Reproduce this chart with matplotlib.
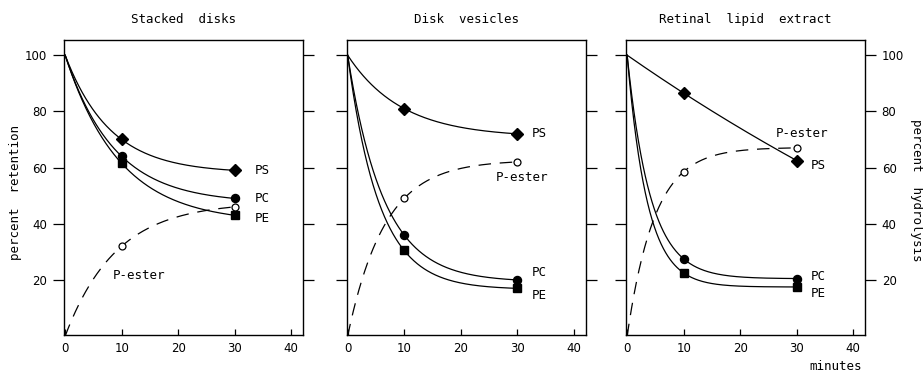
import numpy as np
import matplotlib
matplotlib.use("Agg")
import matplotlib.pyplot as plt

plt.rcParams['font.family'] = ['DejaVu Sans']

# ---- data ----
times = [0, 10, 30]
titles = ["Stacked  disks", "Disk  vesicles", "Retinal  lipid  extract"]

stacked_PS = [100, 70, 59]
stacked_PC = [100, 64, 49]
stacked_PE = [100, 61.5, 43]
stacked_Pester = [0, 32, 46]

vesicles_PS = [100, 81, 72]
vesicles_PC = [100, 36, 20]
vesicles_PE = [100, 30.5, 17]
vesicles_Pester = [0, 49, 62]

extract_PS = [100, 86.5, 62.5]
extract_PC = [100, 27.5, 20.5]
extract_PE = [100, 22.5, 17.5]
extract_Pester = [0, 58.5, 67]

xticks = [0, 10, 20, 30, 40]
yticks = [20, 40, 60, 80, 100]

panels = [
    (stacked_PS, stacked_PC, stacked_PE, stacked_Pester),
    (vesicles_PS, vesicles_PC, vesicles_PE, vesicles_Pester),
    (extract_PS, extract_PC, extract_PE, extract_Pester),
]


def smooth_curve(ts, ys, n=300):
    """Exponential approach curve y = y0 - D(1 - r^(t/10)) through 3 points."""
    y0, y1, y2 = ys
    q = (y0 - y2) / (y0 - y1)
    r = (-1 + np.sqrt(max(4 * q - 3, 1e-9))) / 2
    r = min(max(r, 1e-4), 0.9999)
    D = (y0 - y1) / (1 - r)
    t = np.linspace(ts[0], ts[-1], n)
    return t, y0 - D * (1 - r ** (t / 10.0))


fig = plt.figure(figsize=(9.23, 3.77), dpi=100)
W, H = 923, 377
lefts = [64, 346.5, 626]
pw = 239
top, bottom = 40, 335

# label positions (x, y) per panel, in data coords
label_pos = [
    {"PS": (33.5, 59), "PC": (33.5, 49), "PE": (33.5, 42), "P-ester": (8.5, 21.5)},
    {"PS": (32.5, 72), "PC": (32.5, 22.5), "PE": (32.5, 14.5), "P-ester": (26.3, 56.3)},
    {"PS": (32.5, 60.8), "PC": (32.5, 21.3), "PE": (32.5, 15.3), "P-ester": (26.3, 72)},
]

fs = 8.5
mono = 'DejaVu Sans Mono'
wfs = 9
for i, (ps, pc, pe, pester) in enumerate(panels):
    ax = fig.add_axes([lefts[i] / W, 1 - bottom / H, pw / W, (bottom - top) / H])
    ax.set_xlim(-0.2, 42.1)
    ax.set_ylim(0.4, 105.4)
    for sp in ax.spines.values():
        sp.set_linewidth(1.0)
    # solid fitted curves
    for ys, mk, ms in [(ps, 'D', 6), (pc, 'o', 5.8), (pe, 's', 5.3)]:
        t, y = smooth_curve(times, ys)
        ax.plot(t, y, color='black', lw=0.9)
        ax.plot(times[1:], ys[1:], ls='none', marker=mk, ms=ms, color='black')
    t, y = smooth_curve(times, pester)
    ax.plot(t, y, color='black', lw=0.9, ls=(0, (10, 7)))
    ax.plot(times[1:], pester[1:], ls='none', marker='o', ms=5, mfc='white',
            mec='black', mew=0.9)

    for k, (xx, yy) in label_pos[i].items():
        ax.text(xx, yy, k, fontsize=wfs, family=mono, ha='left', va='center')

    ax.set_xticks(xticks)
    ax.set_yticks(yticks)
    ax.tick_params(axis='x', direction='in', length=4, width=0.9, labelsize=fs,
                   pad=5)
    ax.tick_params(axis='y', direction='out', length=8, width=0.9, labelsize=fs,
                   left=True, right=True, labelleft=(i == 0), labelright=(i == 2),
                   pad=4)
    ax.set_title(titles[i], fontsize=wfs, family=mono, pad=12)

fig.text(16 / W, 1 - 192 / H, "percent  retention", rotation=90, fontsize=wfs,
         family=mono, ha='center', va='center')
fig.text(916 / W, 1 - 190 / H, "percent  hydrolysis", rotation=-90, fontsize=wfs,
         family=mono, ha='center', va='center')
fig.text(836 / W, 1 - 366 / H, "minutes", fontsize=wfs, family=mono,
         ha='center', va='center')

fig.savefig("out.png", dpi=100)
